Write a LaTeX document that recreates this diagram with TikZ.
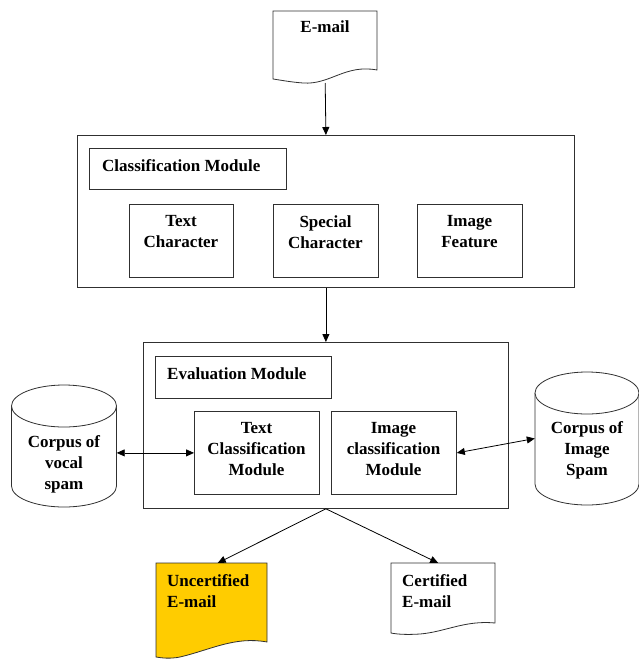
\documentclass[tikz,border=0pt]{standalone}
\usepackage{fontspec}
\setmainfont{Liberation Serif}[BoldFont={Liberation Serif Bold}]
\usetikzlibrary{arrows.meta}
\definecolor{docyellow}{HTML}{FFCC00}
\definecolor{linegray}{HTML}{303030}
\begin{document}
\begin{tikzpicture}[x=1pt,y=-1pt,
  box/.style={draw=linegray, line width=0.8pt, inner sep=0pt},
  ghost/.style={inner sep=0pt},
  lbl/.style={font=\fontsize{17}{21}\selectfont\bfseries, align=center, inner sep=0pt},
  lbll/.style={font=\fontsize{17}{21}\selectfont\bfseries, align=left, inner sep=0pt},
  arr/.style={-{Triangle[length=8pt,width=7pt]}, line width=0.8pt},
  darr/.style={{Triangle[length=8pt,width=7pt]}-{Triangle[length=8pt,width=7pt]}, line width=0.8pt},
  shp/.style={draw=linegray, line width=0.8pt}]
\useasboundingbox (0,0) rectangle (639,659);

% E-mail document
\draw[shp] (273,11) -- (377,11) -- (377,70) .. controls (345,64) and (330,85) .. (303,83) .. controls (290,82) and (280,80) .. (273,79) -- cycle;
\node[ghost, minimum width=104pt, minimum height=72pt, anchor=north west] (email) at (273,11) {};
\node[lbl, anchor=north] (emailt) at (325,20.5) {E-mail};

% Classification module
\node[box, minimum width=497pt, minimum height=152pt, anchor=north west] (cls) at (77,135) {};
\node[box, minimum width=197pt, minimum height=41pt, anchor=north west] (clsh) at (89,148) {};
\node[lbll, anchor=north west] (clsht) at (102,159.5) {Classification Module};
\node[box, minimum width=104pt, minimum height=73pt, anchor=north west] (tc) at (129,204) {};
\node[lbl, anchor=north] at (181,215.5) {Text\\Character};
\node[box, minimum width=105pt, minimum height=73pt, anchor=north west] (sc) at (273,204) {};
\node[lbl, anchor=north] at (325.5,215.5) {Special\\Character};
\node[box, minimum width=105pt, minimum height=73pt, anchor=north west] (imf) at (417,204) {};
\node[lbl, anchor=north] at (469.5,215.5) {Image\\Feature};

% Evaluation module
\node[box, minimum width=365pt, minimum height=166pt, anchor=north west] (ev) at (143,342) {};
\node[box, minimum width=176pt, minimum height=42pt, anchor=north west] (evh) at (155,356) {};
\node[lbll, anchor=north west] at (167,367.5) {Evaluation Module};
\node[box, minimum width=125pt, minimum height=83pt, anchor=north west] (tcm) at (194,411) {};
\node[lbl, anchor=north] at (256.5,422.5) {Text\\Classification\\Module};
\node[box, minimum width=125pt, minimum height=83pt, anchor=north west] (icm) at (331,411) {};
\node[lbl, anchor=north] at (393.5,422.5) {Image\\classification\\Module};

% Left cylinder
\draw[shp, fill=white] (11.5,406) -- (11.5,486) arc[start angle=180, end angle=360, x radius=52.5, y radius=-21] -- (116.5,406);
\draw[shp, fill=white] (64,406) ellipse[x radius=52.5, y radius=21];
\node[ghost, minimum width=105pt, minimum height=122pt] (vocal) at (64,446) {};
\node[lbl, anchor=north] at (64,435.5) {Corpus of\\vocal\\spam};

% Right cylinder
\draw[shp, fill=white] (535,393) -- (535,484) arc[start angle=180, end angle=360, x radius=52, y radius=-21] -- (639,393);
\draw[shp, fill=white] (587,393) ellipse[x radius=52, y radius=21];
\node[ghost, minimum width=104pt, minimum height=133pt] (imspam) at (587,438.5) {};
\node[lbl, anchor=north] at (587,421.5) {Corpus of\\Image\\Spam};

% Uncertified document
\draw[shp, fill=docyellow] (156,563) -- (267,563) -- (267,642) .. controls (235,636) and (210,650) .. (180,657) .. controls (170,659) and (162,658) .. (156,657) -- cycle;
\node[ghost, minimum width=111pt, minimum height=94pt, anchor=north west] (unc) at (156,563) {};
\node[lbll, anchor=north west] at (167,574.5) {Uncertified\\E-mail};

% Certified document
\draw[shp, fill=white] (391,563) -- (495,563) -- (495,623) .. controls (465,620) and (445,632) .. (420,634) .. controls (405,635) and (396,634) .. (391,633) -- cycle;
\node[ghost, minimum width=104pt, minimum height=72pt, anchor=north west] (cert) at (391,563) {};
\node[lbll, anchor=north west] at (402,574.5) {Certified\\E-mail};

% Connectors
\draw[arr] ([yshift=-72pt]email.north) -- (cls.north);
\draw[arr] (cls.south) -- (ev.north);
\draw[darr] (tcm.west -| vocal.east) -- (tcm.west);
\draw[darr] (icm.east) -- (imspam.west);
\draw[arr] (ev.south) -- ([xshift=6pt]unc.north);
\draw[arr] (ev.south) -- ([xshift=-5pt]cert.north);
\end{tikzpicture}
\end{document}
